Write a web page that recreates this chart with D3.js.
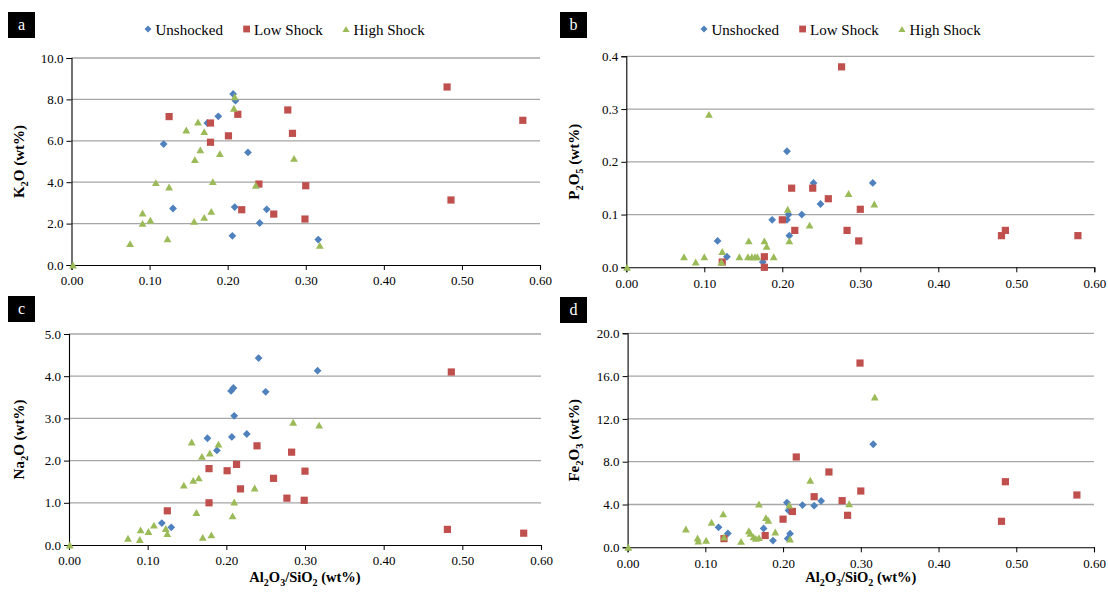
<!DOCTYPE html>
<html><head><meta charset="utf-8">
<script src="https://cdn.jsdelivr.net/npm/d3@7"></script>
<style>body{margin:0;background:#fff} svg{display:block} svg text{font-family:"Liberation Serif","DejaVu Serif","Noto Serif",serif;}</style>
</head><body>
<script>
// ---------- DATA (x = Al2O3/SiO2, y = oxide wt%) ----------
const seriesNames = ["Unshocked", "Low Shock", "High Shock"];
const xTicks = [0, 0.1, 0.2, 0.3, 0.4, 0.5, 0.6];

const k2oTicks = [0, 2, 4, 6, 8, 10];
const k2oUnshocked = [[0.118,5.84],[0.130,2.73],[0.174,6.86],[0.188,7.18],[0.206,1.41],[0.207,8.26],[0.209,2.80],[0.210,7.94],[0.226,5.44],[0.241,2.03],[0.250,2.69],[0.316,1.23]];
const k2oLow = [[0.125,7.17],[0.178,6.86],[0.178,5.93],[0.201,6.24],[0.213,7.28],[0.218,2.67],[0.240,3.91],[0.259,2.46],[0.277,7.49],[0.283,6.36],[0.299,2.22],[0.300,3.83],[0.481,8.60],[0.486,3.14],[0.578,6.99]];
const k2oHigh = [[0.002,0.0],[0.075,1.03],[0.091,2.01],[0.091,2.51],[0.101,2.17],[0.108,3.98],[0.123,1.26],[0.125,3.77],[0.147,6.52],[0.157,2.11],[0.158,5.09],[0.162,6.91],[0.165,5.56],[0.170,6.44],[0.170,2.30],[0.179,2.59],[0.181,4.03],[0.190,5.38],[0.208,7.57],[0.209,8.13],[0.236,3.85],[0.285,5.15],[0.318,0.95]];

const p2o5Ticks = [0, 0.1, 0.2, 0.3, 0.4];
const p2o5Unshocked = [[0.117,0.05],[0.129,0.02],[0.175,0.01],[0.187,0.09],[0.206,0.22],[0.206,0.09],[0.208,0.10],[0.209,0.06],[0.225,0.10],[0.240,0.16],[0.249,0.12],[0.316,0.16]];
const p2o5Low = [[0.123,0.01],[0.177,0.02],[0.177,0.00],[0.200,0.09],[0.212,0.15],[0.216,0.07],[0.239,0.15],[0.259,0.13],[0.276,0.38],[0.283,0.07],[0.298,0.05],[0.300,0.11],[0.481,0.06],[0.486,0.07],[0.579,0.06]];
const p2o5High = [[0.001,0.0],[0.074,0.02],[0.089,0.01],[0.100,0.02],[0.106,0.29],[0.122,0.01],[0.123,0.03],[0.145,0.02],[0.156,0.02],[0.157,0.05],[0.161,0.02],[0.165,0.02],[0.168,0.02],[0.177,0.05],[0.180,0.04],[0.189,0.02],[0.207,0.11],[0.209,0.05],[0.235,0.08],[0.285,0.14],[0.318,0.12]];

const na2oTicks = [0, 1, 2, 3, 4, 5];
const na2oUnshocked = [[0.118,0.52],[0.130,0.42],[0.176,2.53],[0.188,2.24],[0.206,3.65],[0.207,2.56],[0.209,3.72],[0.210,3.06],[0.226,2.63],[0.241,4.43],[0.250,3.63],[0.316,4.13]];
const na2oLow = [[0.125,0.81],[0.178,1.81],[0.178,1.00],[0.201,1.76],[0.213,1.91],[0.218,1.33],[0.239,2.35],[0.260,1.58],[0.277,1.11],[0.283,2.20],[0.299,1.06],[0.300,1.75],[0.481,0.37],[0.486,4.10],[0.578,0.28]];
const na2oHigh = [[0.001,0.0],[0.075,0.16],[0.090,0.13],[0.091,0.36],[0.101,0.32],[0.108,0.47],[0.123,0.39],[0.125,0.27],[0.146,1.42],[0.156,2.44],[0.158,1.53],[0.162,0.77],[0.165,1.59],[0.169,2.10],[0.170,0.18],[0.179,2.18],[0.181,0.24],[0.190,2.39],[0.208,0.69],[0.210,1.02],[0.236,1.35],[0.285,2.91],[0.318,2.84]];

const fe2o3Ticks = [0, 4, 8, 12, 16, 20];
const fe2o3Unshocked = [[0.117,1.87],[0.129,1.30],[0.175,1.76],[0.187,0.63],[0.205,4.18],[0.206,0.82],[0.207,3.45],[0.209,1.27],[0.225,3.95],[0.240,3.89],[0.249,4.33],[0.316,9.63]];
const fe2o3Low = [[0.124,0.81],[0.177,1.10],[0.200,2.63],[0.212,3.35],[0.217,8.44],[0.240,4.73],[0.259,7.04],[0.276,4.36],[0.283,2.99],[0.299,17.22],[0.300,5.26],[0.481,2.43],[0.486,6.13],[0.578,4.89]];
const fe2o3High = [[0.001,0.0],[0.075,1.71],[0.090,0.87],[0.091,0.58],[0.101,0.66],[0.108,2.34],[0.123,3.12],[0.124,0.96],[0.146,0.56],[0.156,1.55],[0.158,1.31],[0.162,0.98],[0.165,0.84],[0.169,0.90],[0.169,4.05],[0.178,2.77],[0.181,2.53],[0.190,1.43],[0.208,3.95],[0.209,0.78],[0.235,6.27],[0.285,4.07],[0.318,14.05]];

// ---------- STYLE ----------
const colors = ["#4F81BD", "#C0504D", "#9BBB59"];
const FONT = '"Liberation Serif","DejaVu Serif","Noto Serif",serif';

const diamond = {draw(ctx, size){const r = Math.sqrt(size)/2; ctx.moveTo(0,-r); ctx.lineTo(r,0); ctx.lineTo(0,r); ctx.lineTo(-r,0); ctx.closePath();}};
const square = {draw(ctx, size){const s = Math.sqrt(size)/2; ctx.rect(-s,-s,2*s,2*s);}};
const triangle = {draw(ctx, size){const w = Math.sqrt(size)/2; const h = w*0.88; ctx.moveTo(0,-h); ctx.lineTo(w,h); ctx.lineTo(-w,h); ctx.closePath();}};
const shapes = [diamond, square, triangle];
const sizes = [7.8*7.8, 7.2*7.2, 7.8*7.8];

const svg = d3.select("body").append("svg")
  .attr("width", 1108).attr("height", 594);
svg.append("rect").attr("width",1108).attr("height",594).attr("fill","#fff");

const xTitleParts = [["Al",0],["2",1],["O",0],["3",1],["/SiO",0],["2",1],[" (wt%)",0]];

const panels = [
  {letter:"a", box:[8,12], series:[k2oUnshocked,k2oLow,k2oHigh], yTicks:k2oTicks,
   xr:[71.5,540], yr:[265,58], legendX:148, legendY:29, yTitleX:24,
   yTitle:[["K",0],["2",1],["O (wt%)",0]], xTitle:false},
  {letter:"b", box:[560,12], series:[p2o5Unshocked,p2o5Low,p2o5High], yTicks:p2o5Ticks,
   xr:[626.3,1094.3], yr:[267.3,56.3], legendX:704, legendY:29, yTitleX:579,
   yTitle:[["P",0],["2",1],["O",0],["5",1],[" (wt%)",0]], xTitle:false},
  {letter:"c", box:[8,296], series:[na2oUnshocked,na2oLow,na2oHigh], yTicks:na2oTicks,
   xr:[69,541], yr:[545,334], legendX:null, yTitleX:24,
   yTitle:[["Na",0],["2",1],["O (wt%)",0]], xTitle:true},
  {letter:"d", box:[560,297], series:[fe2o3Unshocked,fe2o3Low,fe2o3High], yTicks:fe2o3Ticks,
   xr:[627.6,1094], yr:[547.3,333.3], legendX:null, yTitleX:579,
   yTitle:[["Fe",0],["2",1],["O",0],["3",1],[" (wt%)",0]], xTitle:true}
];

function addParts(textSel, parts, mainSize, subSize){
  let sub = false;
  parts.forEach(([t,isSub])=>{
    const ts = textSel.append("tspan").text(t).attr("font-size", isSub? subSize : mainSize);
    if (isSub && !sub) ts.attr("dy", 4);
    if (!isSub && sub) ts.attr("dy", -4);
    sub = !!isSub;
  });
}

panels.forEach(p => {
  const g = svg.append("g");
  const yMax = p.yTicks[p.yTicks.length-1];
  const x = d3.scaleLinear().domain([0,0.6]).range(p.xr);
  const y = d3.scaleLinear().domain([0,yMax]).range(p.yr);

  // gridlines
  g.append("g").selectAll("line").data(p.yTicks.filter(t=>t>0)).join("line")
    .attr("x1", p.xr[0]).attr("x2", p.xr[1])
    .attr("y1", d=>y(d)).attr("y2", d=>y(d))
    .attr("stroke", "#a6a6a6").attr("stroke-width", 1.3);

  // y axis
  const yAxis = d3.axisLeft(y).tickValues(p.yTicks).tickFormat(d3.format(".1f")).tickSize(5).tickPadding(3);
  const ya = g.append("g").attr("transform", `translate(${p.xr[0]},0)`).call(yAxis);
  ya.attr("font-family", null).attr("font-size", null);
  ya.select(".domain").attr("stroke","#000").attr("stroke-width",1.1);
  ya.selectAll(".tick line").attr("stroke","#000");
  ya.selectAll("text").style("font-family",FONT).style("font-size","13px").attr("fill","#000");

  // x axis
  const xAxis = d3.axisBottom(x).tickValues(xTicks).tickFormat(d3.format(".2f")).tickSize(5).tickPadding(6);
  const xa = g.append("g").attr("transform", `translate(0,${p.yr[0]})`).call(xAxis);
  xa.attr("font-family", null).attr("font-size", null);
  xa.select(".domain").attr("stroke","#000").attr("stroke-width",1.1);
  xa.selectAll(".tick line").attr("stroke","#000");
  xa.selectAll("text").style("font-family",FONT).style("font-size","13px").attr("fill","#000");

  // points
  p.series.forEach((data, i) => {
    const sym = d3.symbol().type(shapes[i]).size(sizes[i]);
    g.append("g").selectAll("path").data(data).join("path")
      .attr("d", sym)
      .attr("transform", d => `translate(${x(d[0])},${y(d[1])})`)
      .attr("fill", colors[i]);
  });

  // y title
  const yt = g.append("text")
    .attr("transform", `translate(${p.yTitleX},${(p.yr[0]+p.yr[1])/2}) rotate(-90)`)
    .attr("text-anchor","middle").attr("font-weight","bold").attr("fill","#000");
  addParts(yt, p.yTitle, 15, 10.5);

  // x title
  if (p.xTitle) {
    const xt = g.append("text")
      .attr("x", (p.xr[0]+p.xr[1])/2).attr("y", 582)
      .attr("text-anchor","middle").attr("font-weight","bold").attr("fill","#000");
    addParts(xt, xTitleParts, 14.5, 10);
  }

  // panel letter
  g.append("rect").attr("x", p.box[0]).attr("y", p.box[1]).attr("width", 27).attr("height", 26).attr("fill","#000");
  g.append("text").attr("x", p.box[0]+13.5).attr("y", p.box[1]+18).attr("text-anchor","middle")
    .attr("fill","#fff").attr("font-size",16).text(p.letter);

  // legend
  if (p.legendX !== null) {
    const offs = [0, 98.6, 198];
    const lg = g.append("g");
    seriesNames.forEach((name, i) => {
      const lx = p.legendX + offs[i];
      lg.append("path").attr("d", d3.symbol().type(shapes[i]).size(i===1?6.8*6.8:7*7)())
        .attr("transform", `translate(${lx},${p.legendY})`).attr("fill", colors[i]);
      lg.append("text").attr("x", lx+7.5).attr("y", p.legendY+5.5).attr("font-size",15)
        .attr("fill","#000").text(name);
    });
  }
});
</script>
</body></html>
